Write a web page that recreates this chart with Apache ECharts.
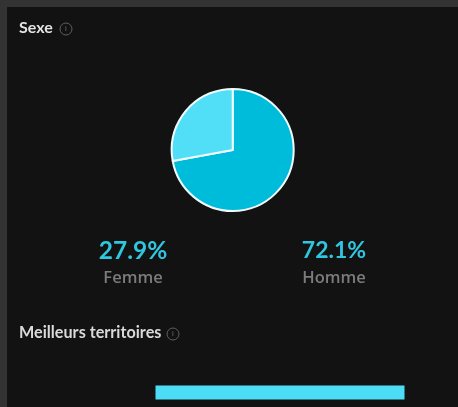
<!DOCTYPE html>
<html><head><meta charset="utf-8">
<style>html,body{margin:0;padding:0;background:#333333}#c{width:458px;height:407px}</style>
<script src="https://cdn.jsdelivr.net/npm/echarts@6/dist/echarts.min.js"></script>
</head><body><div id="c"></div>
<script>
var sexLabels = ['Homme', 'Femme'];
var sexValues = [72.1, 27.9];
var sexColors = ['#00BCDB', '#50DFF6'];
var sectionTitles = ['Sexe', 'Meilleurs territoires'];
var territoryNames = [''];
var territoryValues = [100];

var chart = echarts.init(document.getElementById('c'));
function info(cx, cy) {
  return [
    {type:'circle', shape:{cx:cx, cy:cy, r:6}, style:{fill:'none', stroke:'#5f5f5f', lineWidth:1}},
    {type:'text', x:cx, y:cy, style:{text:'i', fill:'#6a6a6a', font:'8px "Liberation Sans"', align:'center', verticalAlign:'middle'}}
  ];
}
function pctLabel(i, x, size) {
  return [
    {type:'text', x:x, y:251, style:{text:sexValues[i].toFixed(1)+'%', fill:'#2FC6DF', font:'bold '+size+'px Lato', align:'center', verticalAlign:'middle'}},
    {type:'text', x:x, y:278, style:{text:sexLabels[i], fill:'#7C7C7C', font:'600 16.5px "Open Sans"', align:'center', verticalAlign:'middle'}}
  ];
}
chart.setOption({
  animation:false,
  backgroundColor:'#333333',
  grid:{left:155.5, top:385.5, width:249, height:14, containLabel:false},
  xAxis:{type:'value', min:0, max:100, show:false},
  yAxis:{type:'category', data:territoryNames, show:false},
  series:[
    {type:'pie', center:[232.7,150], radius:[0,61], startAngle:90, clockwise:true,
     label:{show:false}, labelLine:{show:false}, silent:true,
     itemStyle:{borderColor:'#f2fbfd', borderWidth:2},
     data:sexLabels.map(function(n,i){return {name:n, value:sexValues[i], itemStyle:{color:sexColors[i]}};})},
    {type:'bar', data:territoryValues, barWidth:14, silent:true, itemStyle:{color:'#4DDCF5'}}
  ],
  graphic:[
    {type:'rect', z:-1, shape:{x:7,y:7,width:451,height:400}, style:{fill:'#121212'}},
    {type:'text', x:19, y:28, style:{text:sectionTitles[0], fill:'#E4E4E4', font:'bold 16px Lato', verticalAlign:'middle'}},
    {type:'text', x:19, y:333, style:{text:sectionTitles[1], fill:'#DADADA', font:'bold 16.2px Lato', verticalAlign:'middle'}}
  ].concat(info(66,29), info(173,334), pctLabel(1,133,24.5), pctLabel(0,334,23))
});
</script></body></html>
